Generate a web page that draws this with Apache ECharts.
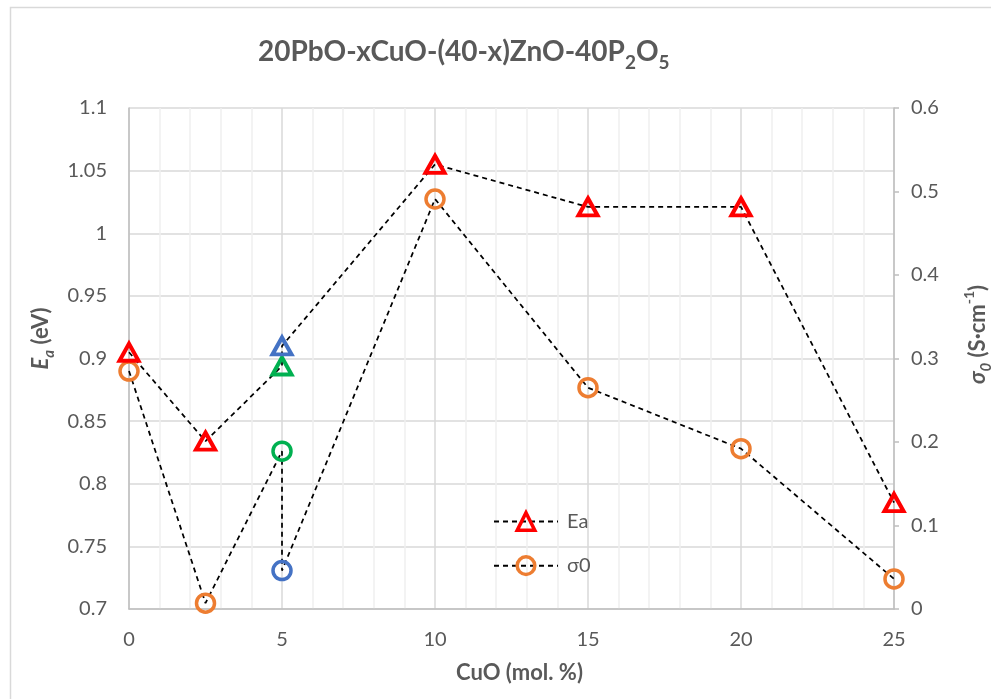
<!DOCTYPE html>
<html>
<head>
<meta charset="utf-8">
<script src="https://cdn.jsdelivr.net/npm/echarts@6/dist/echarts.min.js"></script>
<style>
html,body{margin:0;padding:0;background:#fff;overflow:hidden;width:991px;height:699px;}
#chart{width:991px;height:699px;position:absolute;left:0;top:0;}
</style>
</head>
<body>
<div id="chart"></div>
<script>
// ---- data ----
const xValues = [0, 2.5, 5, 5, 10, 15, 20, 25];
const eaValues = [0.905, 0.834, 0.894, 0.910, 1.055, 1.021, 1.021, 0.785];
const sigmaValues = [0.285, 0.007, 0.189, 0.046, 0.491, 0.265, 0.192, 0.036];
const eaColors = ['#ff0000', '#ff0000', '#00b050', '#4472c4', '#ff0000', '#ff0000', '#ff0000', '#ff0000'];
const sigmaColors = ['#ed7d31', '#ed7d31', '#00b050', '#4472c4', '#ed7d31', '#ed7d31', '#ed7d31', '#ed7d31'];
const seriesNames = ['Ea', 'σ0'];
const xTicks = [0, 5, 10, 15, 20, 25];
const eaTicks = [0.7, 0.75, 0.8, 0.85, 0.9, 0.95, 1, 1.05, 1.1];
const sigmaTicks = [0, 0.1, 0.2, 0.3, 0.4, 0.5, 0.6];

const FONT = 'Lato';
const TXT = '#595959';

function buildData(xs, ys, colors) {
  return xs.map((x, i) => ({ value: [x, ys[i]], itemStyle: { borderColor: colors[i] } }));
}

const chart = echarts.init(document.getElementById('chart'), null, { renderer: 'canvas', width: 991, height: 699 });
const option = {
  animation: false,
  backgroundColor: '#ffffff',
  textStyle: { fontFamily: FONT },
  graphic: [{
    type: 'rect', silent: true, z: -10,
    shape: { x: 10.5, y: 7.5, width: 1000, height: 720 },
    style: { fill: 'none', stroke: '#d9d9d9', lineWidth: 1.5 }
  }],
  title: {
    text: '{m|20PbO-xCuO-(40-x)ZnO-40P}{s|2}{m|O}{s|5}',
    left: 253, top: 27,
    textStyle: {
      rich: {
        m: { fontFamily: FONT, fontWeight: 'bold', fontSize: 28, color: TXT, lineHeight: 40, verticalAlign: 'middle' },
        s: { fontFamily: FONT, fontWeight: 'bold', fontSize: 19, color: TXT, lineHeight: 17, verticalAlign: 'bottom' }
      }
    }
  },
  grid: { left: 129, right: 97, top: 108, bottom: 90, containLabel: false, outerBoundsMode: 'none' },
  legend: {
    orient: 'vertical',
    left: 488, top: 506,
    itemWidth: 64, itemHeight: 22, itemGap: 23,
    data: seriesNames,
    textStyle: { fontFamily: FONT, fontSize: 20, color: TXT, padding: [0, 0, 0, 4] },
    itemStyle: { borderWidth: 3.5 }
  },
  xAxis: {
    type: 'value', min: xTicks[0], max: xTicks[xTicks.length - 1], interval: 5,
    name: 'CuO (mol. %)', nameLocation: 'middle', nameGap: 53,
    nameTextStyle: { fontFamily: FONT, fontWeight: 'bold', fontSize: 22, color: TXT, padding: [0, 0, 0, 16] },
    axisLine: { show: true, lineStyle: { color: '#bfbfbf', width: 1.5 } },
    axisTick: { show: false },
    axisLabel: { fontFamily: FONT, fontSize: 20, color: TXT, margin: 21 },
    splitLine: { show: true, lineStyle: { color: '#d9d9d9', width: 1.5 } },
    minorTick: { show: false, splitNumber: 5 },
    minorSplitLine: { show: true, lineStyle: { color: '#efefef', width: 1.5 } }
  },
  yAxis: [{
    type: 'value', position: 'left', min: eaTicks[0], max: eaTicks[eaTicks.length - 1], interval: 0.05,
    name: '{e|E}{sub|a}{n| (eV)}', nameLocation: 'middle', nameGap: 70,
    nameTextStyle: {
      padding: [0, 0, 0, 40],
      rich: {
        e: { fontFamily: FONT, fontWeight: 'bold', fontStyle: 'italic', fontSize: 22, color: TXT, lineHeight: 32, verticalAlign: 'middle' },
        sub: { fontFamily: FONT, fontWeight: 'bold', fontStyle: 'italic', fontSize: 15, color: TXT, lineHeight: 14, verticalAlign: 'bottom' },
        n: { fontFamily: FONT, fontWeight: 'bold', fontSize: 22, color: TXT, lineHeight: 32, verticalAlign: 'middle' }
      }
    },
    axisLine: { show: true, lineStyle: { color: '#bfbfbf', width: 1.5 } },
    axisTick: { show: false },
    axisLabel: { fontFamily: FONT, fontSize: 20, color: TXT, margin: 22 },
    splitLine: { show: true, lineStyle: { color: '#d9d9d9', width: 1.5 } }
  }, {
    type: 'value', position: 'right', min: sigmaTicks[0], max: sigmaTicks[sigmaTicks.length - 1], interval: 0.1,
    name: '{s|σ}{sub|0}{n| (S·cm}{sup|-1}{n|)}', nameLocation: 'middle', nameGap: 68,
    nameTextStyle: {
      padding: [0, 0, 0, 48],
      rich: {
        s: { fontFamily: FONT, fontWeight: 'bold', fontStyle: 'italic', fontSize: 22, color: TXT, lineHeight: 32, verticalAlign: 'middle' },
        sub: { fontFamily: FONT, fontWeight: 'bold', fontStyle: 'italic', fontSize: 15, color: TXT, lineHeight: 14, verticalAlign: 'bottom' },
        sup: { fontFamily: FONT, fontWeight: 'bold', fontSize: 14, color: TXT, lineHeight: 14, verticalAlign: 'top' },
        n: { fontFamily: FONT, fontWeight: 'bold', fontSize: 22, color: TXT, lineHeight: 32, verticalAlign: 'middle' }
      }
    },
    axisLine: { show: true, lineStyle: { color: '#bfbfbf', width: 1.5 } },
    axisTick: { show: true, length: 5, lineStyle: { color: '#bfbfbf', width: 1.5 } },
    axisLabel: { fontFamily: FONT, fontSize: 20, color: TXT, margin: 17 },
    splitLine: { show: false }
  }],
  series: [{
    name: seriesNames[0], type: 'line', yAxisIndex: 0,
    data: buildData(xValues, eaValues, eaColors),
    symbol: 'triangle', symbolSize: [19, 17],
    itemStyle: { color: 'rgba(255,255,255,0)', borderColor: '#ff0000', borderWidth: 4 },
    lineStyle: { color: '#000000', width: 1.75, type: [5, 4] },
    z: 3
  }, {
    name: seriesNames[1], type: 'line', yAxisIndex: 1,
    data: buildData(xValues, sigmaValues, sigmaColors),
    symbol: 'circle', symbolSize: 18,
    itemStyle: { color: 'rgba(255,255,255,0)', borderColor: '#ed7d31', borderWidth: 3.5 },
    lineStyle: { color: '#000000', width: 1.75, type: [5, 4] },
    z: 2
  }]
};
chart.setOption(option);
</script>
</body>
</html>
